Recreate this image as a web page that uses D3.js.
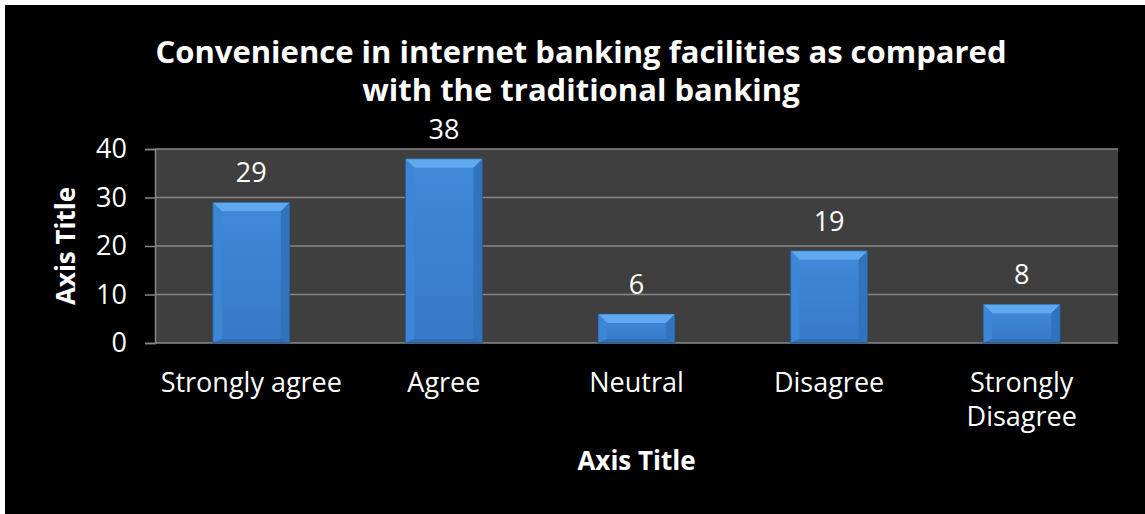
<!DOCTYPE html>
<html>
<head>
<meta charset="utf-8">
<script src="https://cdn.jsdelivr.net/npm/d3@7"></script>
<style>
  html, body { margin: 0; padding: 0; background: #ffffff; overflow: hidden; }
  svg { display: block; }
  text { font-family: "Open Sans", sans-serif; fill: #ffffff; }
</style>
</head>
<body>
<svg id="chart"></svg>
<script>
// chart data
var categories = ["Strongly agree", "Agree", "Neutral", "Disagree", "Strongly Disagree"];
var responses = [29, 38, 6, 19, 8];
var yTicks = [0, 10, 20, 30, 40];
var titleLines = ["Convenience in internet banking facilities as compared", "with the traditional banking"];

var width = 1145, height = 514;
var plot = {left: 155, right: 1118, top: 149, bottom: 343};

var svg = d3.select("#chart")
    .attr("width", width)
    .attr("height", height);

// black chart area, thin white edge at top/left
svg.append("rect")
    .attr("x", 5).attr("y", 5)
    .attr("width", width - 5).attr("height", height - 5)
    .attr("fill", "#000000");

var x = d3.scaleBand()
    .domain(categories)
    .range([plot.left, plot.right])
    .paddingInner(0.6)
    .paddingOuter(0.3);

var y = d3.scaleLinear()
    .domain([0, 40])
    .range([plot.bottom, plot.top]);

// plot area
svg.append("rect")
    .attr("x", plot.left).attr("y", plot.top)
    .attr("width", plot.right - plot.left)
    .attr("height", plot.bottom - plot.top)
    .attr("fill", "#3f3f3f");

// gridlines
svg.append("g")
    .selectAll("line")
    .data(yTicks)
    .enter()
    .append("line")
    .attr("x1", plot.left).attr("x2", plot.right)
    .attr("y1", function(d) { return y(d); })
    .attr("y2", function(d) { return y(d); })
    .attr("stroke", "#888888")
    .attr("stroke-width", 1.5);

// y axis
var yAxis = svg.append("g")
    .attr("transform", "translate(" + plot.left + ",0)")
    .call(d3.axisLeft(y).tickValues(yTicks).tickSize(10).tickPadding(18));
yAxis.select(".domain").attr("stroke", "#888888").attr("stroke-width", 1.5);
yAxis.selectAll(".tick line").attr("stroke", "#888888").attr("stroke-width", 1.5);
yAxis.selectAll(".tick text")
    .attr("fill", "#ffffff")
    .style("font-family", "'Open Sans', sans-serif")
    .style("font-size", "27px");

// bars with bevel look
var defs = svg.append("defs");
var grad = defs.append("linearGradient")
    .attr("id", "face")
    .attr("x1", 0).attr("y1", 0).attr("x2", 0).attr("y2", 1);
grad.append("stop").attr("offset", "0%").attr("stop-color", "#3f8ad9");
grad.append("stop").attr("offset", "100%").attr("stop-color", "#3779c6");

var bev = 9;
var bars = svg.append("g")
    .selectAll("g")
    .data(responses)
    .enter()
    .append("g");

function pts(arr) {
    return arr.map(function(p) { return p.join(","); }).join(" ");
}

bars.each(function(d, i) {
    var g = d3.select(this);
    var x0 = x(categories[i]), x1 = x0 + x.bandwidth();
    var y0 = y(d), y1 = y(0);
    g.append("rect")
        .attr("x", x0).attr("y", y0)
        .attr("width", x1 - x0).attr("height", y1 - y0)
        .attr("fill", "url(#face)");
    g.append("polygon")
        .attr("points", pts([[x0, y0], [x1, y0], [x1 - bev, y0 + bev], [x0 + bev, y0 + bev]]))
        .attr("fill", "#5ea9ef");
    g.append("polygon")
        .attr("points", pts([[x0, y0], [x0 + bev, y0 + bev], [x0 + bev, y1 - 4], [x0, y1]]))
        .attr("fill", "#3c86d5");
    g.append("polygon")
        .attr("points", pts([[x1, y0], [x1, y1], [x1 - bev, y1 - 4], [x1 - bev, y0 + bev]]))
        .attr("fill", "#3273bd");
    g.append("polygon")
        .attr("points", pts([[x0, y1], [x1, y1], [x1 - bev, y1 - 4], [x0 + bev, y1 - 4]]))
        .attr("fill", "#2f6db4");
    g.append("rect")
        .attr("x", x0).attr("y", y0)
        .attr("width", x1 - x0).attr("height", y1 - y0)
        .attr("fill", "none")
        .attr("stroke", "#1d4a7c")
        .attr("stroke-opacity", 0.6)
        .attr("stroke-width", 1);
});

// value labels
svg.append("g")
    .selectAll("text")
    .data(responses)
    .enter()
    .append("text")
    .attr("x", function(d, i) { return x(categories[i]) + x.bandwidth() / 2; })
    .attr("y", function(d) { return y(d) - 20; })
    .attr("text-anchor", "middle")
    .style("font-size", "27px")
    .text(function(d) { return d; });

// category labels, wrapped to band step
var xLabels = svg.append("g")
    .selectAll("text")
    .data(categories)
    .enter()
    .append("text")
    .attr("x", function(d) { return x(d) + x.bandwidth() / 2; })
    .attr("y", 392)
    .attr("text-anchor", "middle")
    .style("font-size", "27px");

xLabels.each(function(d) {
    var t = d3.select(this);
    var words = d.split(" ");
    var cx = +t.attr("x");
    var line = [];
    var tspan = t.append("tspan").attr("x", cx).attr("dy", 0);
    words.forEach(function(w) {
        line.push(w);
        tspan.text(line.join(" "));
        if (tspan.node().getComputedTextLength() > x.step() && line.length > 1) {
            line.pop();
            tspan.text(line.join(" "));
            line = [w];
            tspan = t.append("tspan").attr("x", cx).attr("dy", 34).text(w);
        }
    });
});

// axis titles
svg.append("text")
    .attr("x", (plot.left + plot.right) / 2)
    .attr("y", 470)
    .attr("text-anchor", "middle")
    .style("font-size", "26px")
    .style("font-weight", "bold")
    .text("Axis Title");

svg.append("text")
    .attr("transform", "translate(75," + (plot.top + plot.bottom) / 2 + ") rotate(-90)")
    .attr("text-anchor", "middle")
    .style("font-size", "26px")
    .style("font-weight", "bold")
    .text("Axis Title");

// chart title
svg.append("g")
    .selectAll("text")
    .data(titleLines)
    .enter()
    .append("text")
    .attr("x", 581)
    .attr("y", function(d, i) { return 63 + i * 38; })
    .attr("text-anchor", "middle")
    .style("font-size", "31px")
    .style("font-weight", "bold")
    .text(function(d) { return d; });
</script>
</body>
</html>
